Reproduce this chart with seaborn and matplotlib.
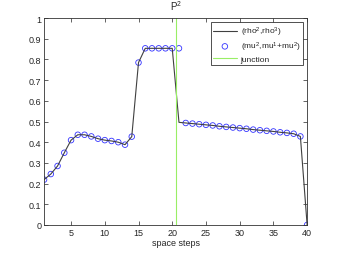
import numpy as np
import pandas as pd
import seaborn as sns
import matplotlib.pyplot as plt

# space step index
steps = list(range(1, 41))
# (rho^2, rho^3) line values
rho = [0.219, 0.246, 0.285, 0.349, 0.410, 0.436, 0.436, 0.428, 0.417, 0.410,
       0.406, 0.400, 0.388, 0.427, 0.785, 0.854, 0.854, 0.854, 0.854, 0.854,
       0.496, 0.493, 0.490, 0.487, 0.484, 0.481, 0.477, 0.474, 0.471, 0.468,
       0.465, 0.461, 0.458, 0.455, 0.452, 0.448, 0.445, 0.441, 0.428, 0.0]
# (mu^2, mu^1+mu^2) circle values
mu = [0.219, 0.246, 0.285, 0.349, 0.410, 0.436, 0.436, 0.428, 0.417, 0.410,
      0.406, 0.400, 0.388, 0.427, 0.785, 0.854, 0.854, 0.854, 0.854, 0.854,
      0.854, 0.493, 0.490, 0.487, 0.484, 0.481, 0.477, 0.474, 0.471, 0.468,
      0.465, 0.461, 0.458, 0.455, 0.452, 0.448, 0.445, 0.441, 0.428, 0.0]
junction = 20.5

df = pd.DataFrame({'step': steps, 'rho': rho, 'mu': mu})

sns.set_style('white')
plt.rcParams['font.family'] = ['Liberation Sans', 'DejaVu Sans']
plt.rcParams['mathtext.fontset'] = 'custom'
plt.rcParams['mathtext.rm'] = 'Liberation Sans'
plt.rcParams['mathtext.it'] = 'Liberation Sans'

fig = plt.figure(figsize=(3.39, 2.55), dpi=100)
ax = fig.add_axes([0.13, 0.114, 0.776, 0.811])

sns.lineplot(data=df, x='step', y='rho', ax=ax, color='#404040', lw=0.8,
             label='(rho$^2$,rho$^3$)')
sns.scatterplot(data=df, x='step', y='mu', ax=ax, marker='o', s=16,
                facecolor='none', edgecolor='#3333ff', linewidth=0.6,
                label='(mu$^2$,mu$^1$+mu$^2$)')
ax.axvline(junction, color='#99ee66', lw=0.8, label='junction')

ax.set_xlim(1, 40)
ax.set_ylim(0, 1)
ax.set_xticks([5, 10, 15, 20, 25, 30, 35, 40])
ax.set_yticks(np.arange(0, 1.01, 0.1))
ax.set_yticklabels(['0', '0.1', '0.2', '0.3', '0.4', '0.5', '0.6', '0.7', '0.8', '0.9', '1'])
ax.tick_params(direction='in', length=3, width=0.5, labelsize=6.5, pad=2,
               top=True, right=True, bottom=True, left=True)
for sp in ax.spines.values():
    sp.set_linewidth(0.6)
    sp.set_color('#333333')
ax.set_xlabel('space steps', fontsize=6.5, labelpad=1)
ax.set_ylabel('')
ax.set_title('P$^2$', fontsize=7, pad=6)

leg = ax.legend(loc='upper right', fontsize=6, frameon=True, fancybox=False,
                borderpad=0.3, labelspacing=0.2, handlelength=2.8,
                handletextpad=0.5, borderaxespad=0.5)
leg.get_frame().set_edgecolor('black')
leg.get_frame().set_linewidth(0.6)

fig.savefig('out.png', dpi=100)
